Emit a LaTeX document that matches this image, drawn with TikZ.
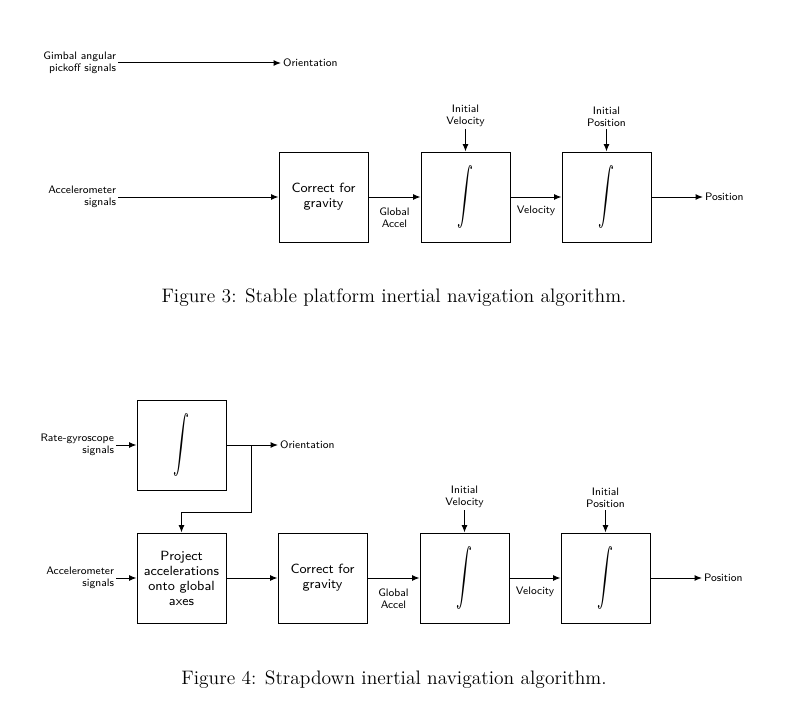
\documentclass[tikz,border=0pt]{standalone}
\usetikzlibrary{arrows.meta}
\begin{document}
\begin{tikzpicture}[x=0.6pt,y=-0.6pt,
  block/.style={draw, line width=0.6pt, minimum width=53.4pt, minimum height=54pt, inner sep=0pt, align=center, font=\fontsize{8}{9}\selectfont\sffamily},
  lbl/.style={inner sep=1pt, font=\fontsize{6.5}{7.5}\selectfont\sffamily},
  arr/.style={line width=0.6pt, -{Latex[length=4.5pt,width=3.6pt]}},
  capt/.style={inner sep=0pt, font=\fontsize{11.7}{14}\selectfont}]
\useasboundingbox (0,0) rectangle (797,711);
\newcommand{\bigint}{\scalebox{0.95}[1.7]{$\displaystyle\int$}}
% ---------- Figure 3 ----------
\node[lbl, anchor=east, align=right] (gim) at (118,63) {Gimbal angular\\pickoff signals};
\node[lbl, anchor=west] (ori3) at (281,63) {Orientation};
\draw[arr] (gim.east) -- (ori3.west);
\node[lbl, anchor=east, align=right] (acc3) at (118,197) {Accelerometer\\signals};
\node[block] (cg3) at (323.5,197) {Correct for\\gravity};
\node[block] (iv3) at (465.5,197) {\bigint};
\node[block] (ip3) at (606.5,197) {\bigint};
\node[lbl, anchor=west] (pos3) at (703,197) {Position};
\draw[arr] (acc3.east) -- (cg3.west);
\draw[arr] (cg3.east) -- node[lbl, below, align=center, yshift=-5pt] (ga3) {Global\\Accel} (iv3.west);
\draw[arr] (iv3.east) -- node[lbl, below, yshift=-4pt] (vel3) {Velocity} (ip3.west);
\draw[arr] (ip3.east) -- (pos3.west);
\node[lbl, anchor=south, align=center] (inv3) at (465.5,129) {Initial\\Velocity};
\node[lbl, anchor=south, align=center] (inp3) at (606.5,129) {Initial\\Position};
\draw[arr] (inv3.south) -- (iv3.north);
\draw[arr] (inp3.south) -- (ip3.north);
\node[capt] (cap3) at (394,298) {Figure 3: Stable platform inertial navigation algorithm.};
% ---------- Figure 4 ----------
\node[block] (gy) at (181.5,445) {\bigint};
\node[lbl, anchor=east, align=right] (rg) at (116,445) {Rate-gyroscope\\signals};
\node[lbl, anchor=west] (ori4) at (278,445) {Orientation};
\draw[arr] (rg.east) -- (gy.west);
\draw[arr] (gy.east) -- (ori4.west);
\node[block] (pj) at (181.5,578) {Project\\accelerations\\onto global\\axes};
\coordinate (br) at (251,445);
\coordinate (bk) at (251,512);
\draw[arr] (br) -- (bk) -| (pj.north);
\node[lbl, anchor=east, align=right] (acc4) at (116,578) {Accelerometer\\signals};
\draw[arr] (acc4.east) -- (pj.west);
\node[block] (cg4) at (322.5,578) {Correct for\\gravity};
\node[block] (iv4) at (464.5,578) {\bigint};
\node[block] (ip4) at (605.5,578) {\bigint};
\node[lbl, anchor=west] (pos4) at (702,578) {Position};
\draw[arr] (pj.east) -- (cg4.west);
\draw[arr] (cg4.east) -- node[lbl, below, align=center, yshift=-5pt] (ga4) {Global\\Accel} (iv4.west);
\draw[arr] (iv4.east) -- node[lbl, below, yshift=-4pt] (vel4) {Velocity} (ip4.west);
\draw[arr] (ip4.east) -- (pos4.west);
\node[lbl, anchor=south, align=center] (inv4) at (464.5,510) {Initial\\Velocity};
\node[lbl, anchor=south, align=center] (inp4) at (605.5,510) {Initial\\Position};
\draw[arr] (inv4.south) -- (iv4.north);
\draw[arr] (inp4.south) -- (ip4.north);
\node[capt] (cap4) at (394,680) {Figure 4: Strapdown inertial navigation algorithm.};
\end{tikzpicture}
\end{document}
